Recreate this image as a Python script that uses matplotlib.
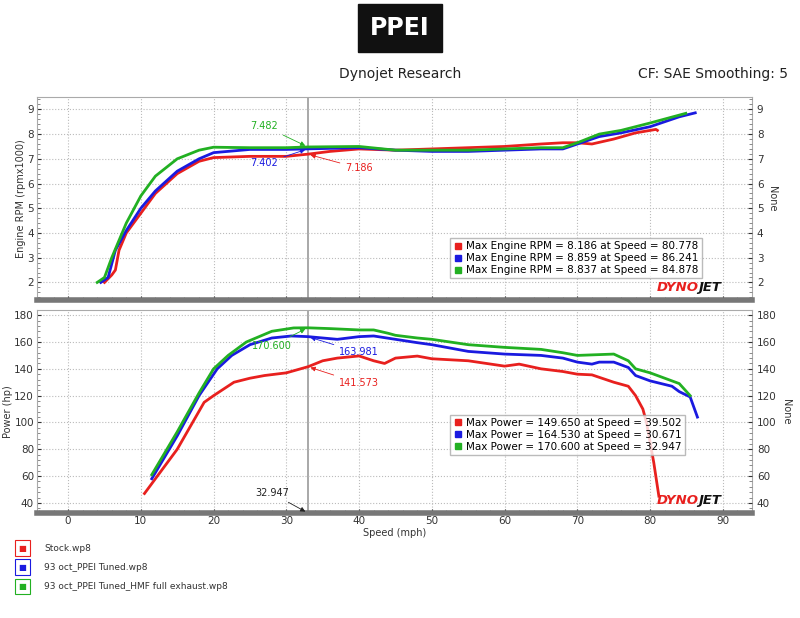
import matplotlib
matplotlib.use("Agg")
import matplotlib.pyplot as plt
from matplotlib.lines import Line2D
from matplotlib.ticker import MultipleLocator

# ── Data ──
rpm_stock_x = [5, 6, 6.5, 7, 8, 10, 12, 15, 18, 20, 25, 30, 33, 36, 40, 45, 50, 55, 60, 65, 68, 70, 72, 75, 78, 80.8, 81]
rpm_stock_y = [2.0, 2.3, 2.5, 3.3, 4.0, 4.8, 5.6, 6.4, 6.9, 7.05, 7.1, 7.1, 7.19, 7.3, 7.4, 7.35, 7.4, 7.45, 7.5, 7.6, 7.65, 7.65, 7.6, 7.8, 8.05, 8.19, 8.15]
rpm_tuned_x = [4.5, 5.5, 6.5, 8, 10, 12, 15, 18, 20, 25, 30, 32.5, 40, 45, 50, 55, 60, 65, 68, 70, 73, 76, 80, 84, 86.2]
rpm_tuned_y = [2.0, 2.2, 3.3, 4.1, 5.0, 5.7, 6.5, 7.0, 7.25, 7.38, 7.38, 7.40, 7.45, 7.35, 7.3, 7.3, 7.35, 7.4, 7.4, 7.6, 7.9, 8.05, 8.3, 8.7, 8.86]
rpm_hmf_x = [4, 5, 6, 7, 8, 10, 12, 15, 18, 20, 25, 30, 33, 40, 45, 50, 55, 60, 65, 68, 70, 73, 76, 80, 84.9]
rpm_hmf_y = [2.0, 2.2, 3.0, 3.7, 4.4, 5.5, 6.3, 7.0, 7.35, 7.47, 7.45, 7.45, 7.48, 7.5, 7.35, 7.35, 7.35, 7.4, 7.45, 7.45, 7.65, 8.0, 8.15, 8.45, 8.84]

hp_stock_x = [10.5, 15, 18.7, 20, 22.8, 25, 27, 30, 33, 35, 37, 40, 42, 43.5, 45, 48, 50, 55, 60, 62, 65, 68, 70, 72, 75, 77, 78, 79, 79.5, 80.5, 81.2]
hp_stock_y = [47, 80, 115, 120, 130, 133, 135, 137, 141.6, 146, 148, 149.6, 146, 144, 148, 149.5, 147.5, 146, 142, 143.5, 140, 138, 136, 135.5, 130, 127, 120, 110, 100, 70, 45]
hp_tuned_x = [11.5, 15, 18, 20.5, 22.5, 25, 28, 30.7, 33, 37, 40, 42, 45, 48, 50, 55, 60, 65, 68, 70, 72, 73, 75, 77, 78, 80, 83, 84, 85.5, 86.5]
hp_tuned_y = [58, 90, 120, 140, 150, 158, 163, 164.5, 164, 162, 164, 164.5, 162, 159.5, 158, 153, 151, 150, 148, 145, 143.5, 145, 145, 141, 135, 131, 127, 123, 119, 104]
hp_hmf_x = [11.5, 15, 18, 20, 22, 24.5, 28, 31, 32.9, 36, 40, 42, 44, 45, 48, 50, 55, 60, 65, 68, 70, 75, 77, 78, 80, 82, 84, 85.5]
hp_hmf_y = [61, 93, 122, 140, 150, 160, 168, 170.5, 170.6, 170, 169, 169, 166.5, 165, 163, 162, 158, 156, 154.5, 152, 150, 151, 146, 140, 137, 133, 129, 120]

run_names = ["Stock.wp8", "93 oct_PPEI Tuned.wp8", "93 oct_PPEI Tuned_HMF full exhaust.wp8"]
run_colors = ["#e8201e", "#1a1ae0", "#22b022"]
rpm_legend = ["Max Engine RPM = 8.186 at Speed = 80.778",
              "Max Engine RPM = 8.859 at Speed = 86.241",
              "Max Engine RPM = 8.837 at Speed = 84.878"]
hp_legend = ["Max Power = 149.650 at Speed = 39.502",
             "Max Power = 164.530 at Speed = 30.671",
             "Max Power = 170.600 at Speed = 32.947"]
cursor_x = 32.947

plt.rcParams["font.family"] = ["DejaVu Sans"]
fig = plt.figure(figsize=(8, 6.18), dpi=100)
ax1 = fig.add_axes([0.046, 0.515, 0.894, 0.328])
ax2 = fig.add_axes([0.046, 0.170, 0.894, 0.328])


def style_axes(ax, ylim, major, minor, ylabel):
    ax.set_xlim(-4.3, 94)
    ax.set_ylim(*ylim)
    ax.xaxis.set_major_locator(MultipleLocator(10))
    ax.xaxis.set_minor_locator(MultipleLocator(2))
    ax.yaxis.set_major_locator(MultipleLocator(major))
    ax.yaxis.set_minor_locator(MultipleLocator(minor))
    ax.grid(True, which="major", color="#bbbbbb", linestyle=":", linewidth=0.8)
    ax.tick_params(labelsize=7.5, colors="#333333", direction="in", length=3, pad=2)
    ax.tick_params(which="minor", direction="in", length=2, colors="#777777")
    ax.set_ylabel(ylabel, fontsize=7, color="#333333", labelpad=1)
    for s in ("top", "left", "right"):
        ax.spines[s].set_color("#aaaaaa")
    ax.spines["bottom"].set_color("#777777")
    ax.spines["bottom"].set_linewidth(4)
    ax.axvline(cursor_x, color="#999999", linewidth=1.2, zorder=1)
    tw = ax.twinx()
    tw.set_ylim(*ylim)
    tw.yaxis.set_major_locator(MultipleLocator(major))
    tw.yaxis.set_minor_locator(MultipleLocator(minor))
    tw.tick_params(labelsize=7.5, colors="#333333", direction="in", length=3)
    tw.tick_params(which="minor", direction="in", length=2, colors="#777777")
    tw.set_ylabel("None", fontsize=7, rotation=270, labelpad=10, color="#333333")
    for s in tw.spines.values():
        s.set_visible(False)
    ax.text(0.925, 0.03, "DYNO", transform=ax.transAxes, ha="right", va="bottom",
            fontsize=9.5, fontweight="heavy", fontstyle="italic", color="#e8201e")
    ax.text(0.925, 0.03, "JET", transform=ax.transAxes, ha="left", va="bottom",
            fontsize=9.5, fontweight="heavy", fontstyle="italic", color="#111111")


style_axes(ax1, (1.3, 9.5), 1, 0.2, "Engine RPM (rpmx1000)")
style_axes(ax2, (32.5, 183.7), 20, 4, "Power (hp)")
ax1.tick_params(labelbottom=False)
ax2.set_xlabel("Speed (mph)", fontsize=7, color="#333333", labelpad=2)

for xs, ys, c in zip([rpm_stock_x, rpm_tuned_x, rpm_hmf_x], [rpm_stock_y, rpm_tuned_y, rpm_hmf_y], run_colors):
    ax1.plot(xs, ys, color=c, linewidth=2)
for xs, ys, c in zip([hp_stock_x, hp_tuned_x, hp_hmf_x], [hp_stock_y, hp_tuned_y, hp_hmf_y], run_colors):
    ax2.plot(xs, ys, color=c, linewidth=2)


def square_handles():
    return [Line2D([], [], linestyle="none", marker="s", markersize=5, color=c,
                   markeredgecolor=c) for c in run_colors]


leg1 = ax1.legend(square_handles(), rpm_legend, loc="upper left", bbox_to_anchor=(0.57, 0.33),
                  fontsize=7.5, frameon=True, fancybox=False, edgecolor="#aaaaaa",
                  handlelength=1, handletextpad=0.3, borderpad=0.3, labelspacing=0.2)
leg2 = ax2.legend(square_handles(), hp_legend, loc="upper left", bbox_to_anchor=(0.57, 0.51),
                  fontsize=7.5, frameon=True, fancybox=False, edgecolor="#aaaaaa",
                  handlelength=1, handletextpad=0.3, borderpad=0.3, labelspacing=0.2)

# cursor annotations
arw = dict(arrowstyle="-|>", color="#888888", linewidth=0.6)
ax1.annotate("7.482", xy=(cursor_x, 7.482), xytext=(27, 8.2), fontsize=7, color=run_colors[2],
             ha="center", arrowprops=dict(arw, color=run_colors[2]))
ax1.annotate("7.402", xy=(cursor_x, 7.402), xytext=(27, 6.7), fontsize=7, color=run_colors[1],
             ha="center", arrowprops=dict(arw, color=run_colors[1]))
ax1.annotate("7.186", xy=(cursor_x, 7.186), xytext=(40, 6.5), fontsize=7, color=run_colors[0],
             ha="center", arrowprops=dict(arw, color=run_colors[0]))
ax2.annotate("170.600", xy=(cursor_x, 170.6), xytext=(28, 155), fontsize=7, color=run_colors[2],
             ha="center", arrowprops=dict(arw, color=run_colors[2]))
ax2.annotate("163.981", xy=(cursor_x, 164), xytext=(40, 150), fontsize=7, color=run_colors[1],
             ha="center", arrowprops=dict(arw, color=run_colors[1]))
ax2.annotate("141.573", xy=(cursor_x, 141.6), xytext=(40, 127), fontsize=7, color=run_colors[0],
             ha="center", arrowprops=dict(arw, color=run_colors[0]))
ax2.annotate("32.947", xy=(cursor_x, 32.5), xytext=(28, 45), fontsize=7, color="#222222",
             ha="center", arrowprops=dict(arw, color="#222222"))

# header
fig.text(0.5, 0.955, "PPEI", ha="center", va="center", fontsize=17, fontweight="heavy",
         color="white", bbox=dict(boxstyle="square,pad=0.5", facecolor="#111111", edgecolor="#111111"))
fig.text(0.5, 0.88, "Dynojet Research", ha="center", va="center", fontsize=10, color="#222222")
fig.text(0.985, 0.88, "CF: SAE Smoothing: 5", ha="right", va="center", fontsize=10, color="#222222")

# run list
for i, (name, c) in enumerate(zip(run_names, run_colors)):
    y = 0.113 - i * 0.031
    fig.text(0.028, y, "\u25a0", color=c, fontsize=6, ha="center", va="center",
             bbox=dict(boxstyle="square,pad=0.4", facecolor="white", edgecolor=c, linewidth=0.8))
    fig.text(0.055, y, name, fontsize=6.5, color="#333333", va="center")

fig.savefig("out.png", dpi=100)
